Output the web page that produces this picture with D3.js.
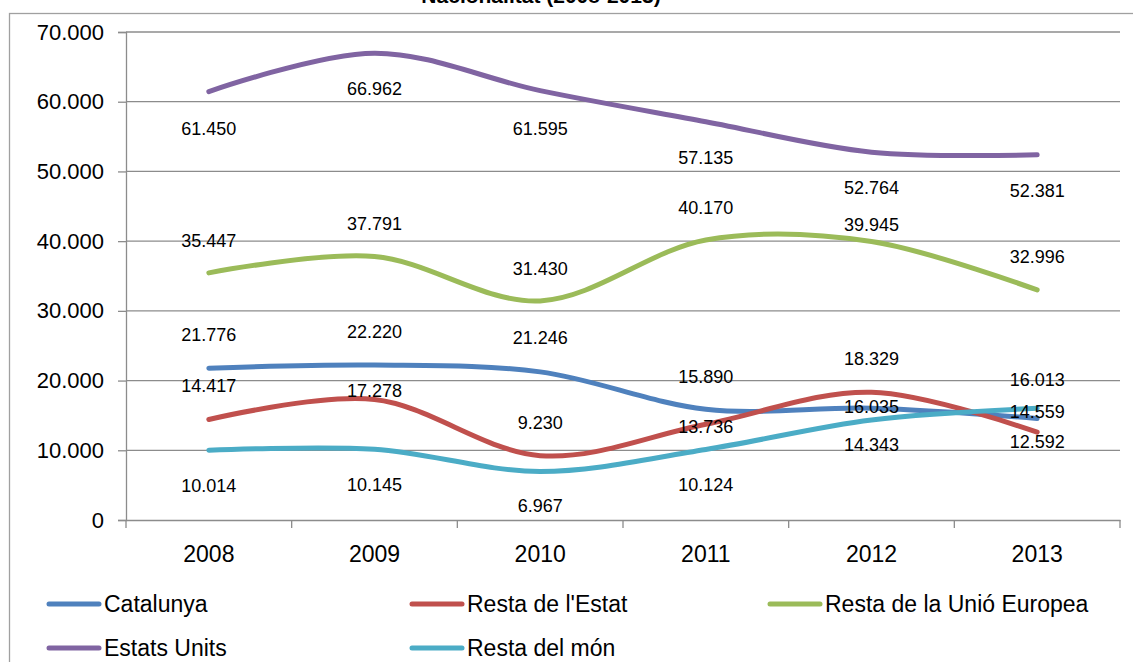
<!DOCTYPE html>
<html>
<head>
<meta charset="utf-8">
<script src="https://cdn.jsdelivr.net/npm/d3@7"></script>
<style>
  html, body { margin: 0; padding: 0; background: #fff; }
  svg { display: block; }
  text { font-family: "Liberation Sans", Arial, sans-serif; fill: #000; }
</style>
</head>
<body>
<svg id="chart" width="1133" height="662"></svg>
<script>
// ---- data ----
const titleText = "Nacionalitat (2008-2013)";
const years = ["2008", "2009", "2010", "2011", "2012", "2013"];
const seriesNames = ["Catalunya", "Resta de l'Estat", "Resta de la Unió Europea", "Estats Units", "Resta del món"];
const catalunya     = [21776, 22220, 21246, 15890, 16035, 14559];
const restaEstat    = [14417, 17278,  9230, 13736, 18329, 12592];
const restaUE       = [35447, 37791, 31430, 40170, 39945, 32996];
const estatsUnits   = [61450, 66962, 61595, 57135, 52764, 52381];
const restaMon      = [10014, 10145,  6967, 10124, 14343, 16013];
const yTicks = [0, 10000, 20000, 30000, 40000, 50000, 60000, 70000];

// ---- style / label placement (pixels relative to the point) ----
const colors = ["#4F81BD", "#C0504D", "#9BBB59", "#8064A2", "#4BACC6"];
const labelOffsets = [
  [-33, -33, -34, -32, -1, -7],
  [-33, -9, -33, 3, -33, 10],
  [-32, -33, -32, -32, -17, -33],
  [37, 36, 38, 36, 36, 36],
  [36, 36, 35, 36, 25, -28]
];

const allSeries = [catalunya, restaEstat, restaUE, estatsUnits, restaMon];

const svg = d3.select("#chart");
const plotLeft = 126, plotRight = 1120, plotTop = 32, plotBottom = 520;

// outer chart border (partially off-canvas)
svg.append("rect")
  .attr("x", 9.5).attr("y", 13.5)
  .attr("width", 1200).attr("height", 800)
  .attr("fill", "none").attr("stroke", "#A0A0A0").attr("stroke-width", 1.3);

// title (mostly cut off at the top)
svg.append("text")
  .attr("x", 541).attr("y", 3)
  .attr("text-anchor", "middle")
  .style("font-size", "21px").style("font-weight", "bold")
  .text(titleText);

const x = d3.scaleBand().domain(years).range([plotLeft, plotRight]);
const y = d3.scaleLinear().domain([0, 70000]).range([plotBottom, plotTop]);

const fmt = v => d3.format(",")(v).replace(/,/g, ".");

// gridlines
svg.append("g")
  .selectAll("line")
  .data(yTicks.filter(t => t > 0))
  .join("line")
  .attr("x1", plotLeft).attr("x2", plotRight)
  .attr("y1", d => y(d)).attr("y2", d => y(d))
  .attr("stroke", "#8C8C8C").attr("stroke-width", 1.3);

// y axis
const yAxis = svg.append("g")
  .attr("transform", `translate(${plotLeft},0)`)
  .call(d3.axisLeft(y).tickValues(yTicks).tickSize(8).tickPadding(14).tickFormat(fmt));
yAxis.select(".domain").attr("stroke", "#8C8C8C").attr("stroke-width", 1.3);
yAxis.selectAll(".tick line").attr("stroke", "#8C8C8C").attr("stroke-width", 1.3);
yAxis.selectAll(".tick text")
  .style("font-size", "22px").style("font-family", "Liberation Sans, Arial, sans-serif")
  .attr("fill", "#000");

// x axis
const xAxis = svg.append("g")
  .attr("transform", `translate(0,${plotBottom})`)
  .call(d3.axisBottom(x).tickSize(0).tickPadding(26));
xAxis.select(".domain").attr("stroke", "#8C8C8C").attr("stroke-width", 1.3);
xAxis.selectAll(".tick text")
  .style("font-size", "23px").style("font-family", "Liberation Sans, Arial, sans-serif")
  .attr("fill", "#000");
// boundary tick marks between categories
const bounds = years.map(d => x(d)).concat([x(years[years.length - 1]) + x.bandwidth()]);
svg.append("g").selectAll("line")
  .data(bounds).join("line")
  .attr("x1", d => d).attr("x2", d => d)
  .attr("y1", plotBottom).attr("y2", plotBottom + 8)
  .attr("stroke", "#8C8C8C").attr("stroke-width", 1.3);

const cx = d => x(d) + x.bandwidth() / 2;

const line = d3.line()
  .x((d, i) => cx(years[i]))
  .y(d => y(d))
  .curve(d3.curveCatmullRom.alpha(0));

// lines
svg.append("g").selectAll("path")
  .data(allSeries)
  .join("path")
  .attr("d", d => line(d))
  .attr("fill", "none")
  .attr("stroke", (d, i) => colors[i])
  .attr("stroke-width", 5)
  .attr("stroke-linecap", "round")
  .attr("stroke-linejoin", "round");

// data labels
allSeries.forEach((vals, si) => {
  svg.append("g").selectAll("text")
    .data(vals)
    .join("text")
    .attr("x", (d, i) => cx(years[i]))
    .attr("y", (d, i) => y(d) + labelOffsets[si][i])
    .attr("text-anchor", "middle")
    .attr("dominant-baseline", "central")
    .style("font-size", "18px")
    .text(d => fmt(d));
});

// legend
const legendPos = [[47, 604], [410, 604], [768, 604], [47, 648], [410, 648]];
const lg = svg.append("g");
seriesNames.forEach((name, i) => {
  const [lx, ly] = legendPos[i];
  lg.append("line")
    .attr("x1", lx + 2).attr("x2", lx + 52)
    .attr("y1", ly).attr("y2", ly)
    .attr("stroke", colors[i]).attr("stroke-width", 5)
    .attr("stroke-linecap", "round");
  lg.append("text")
    .attr("x", lx + 57).attr("y", ly)
    .attr("dominant-baseline", "central")
    .style("font-size", "23px")
    .text(name);
});
</script>
</body>
</html>
